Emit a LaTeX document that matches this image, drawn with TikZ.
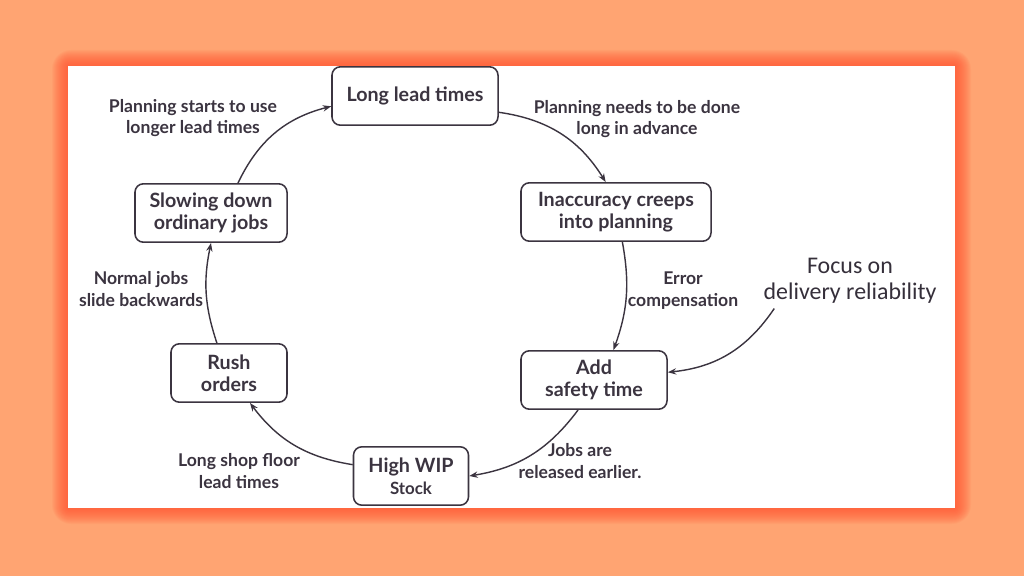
\documentclass[tikz,border=0pt]{standalone}
\usepackage{fontspec}
\setmainfont{Lato}
\newfontfamily\focusfont{Carlito}
\usetikzlibrary{arrows.meta}

\definecolor{bgorange}{HTML}{FFA472}
\definecolor{glowred}{HTML}{FF5230}
\definecolor{ink}{HTML}{3B3440}

\begin{document}
\begin{tikzpicture}[
    x=0.025cm, y=-0.025cm,
    >={Stealth[length=6pt, width=4.5pt]},
    stage/.style={draw=ink, rounded corners=6pt, line width=1.1pt, fill=white, align=center, text=ink, inner sep=0pt, minimum height=1.46cm, font=\fontsize{14}{15.6}\selectfont\bfseries},
    note/.style={align=center, text=ink, font=\fontsize{12.5}{15.5}\selectfont\bfseries},
    link/.style={->, draw=ink, line width=1pt},
]
  % background and panel
  \fill[bgorange] (0,0) rectangle (1024,576);
  \foreach \d in {1,...,16}
    \fill[glowred, opacity=0.07, rounded corners=\d*0.3mm] (68-\d,66-\d) rectangle (955+\d,508+\d);
  \fill[white] (68,66) rectangle (955,508);

  % Stages of the loop
  \node[stage, minimum width=4.15cm] (lead) at (415,96) {Long lead times};
  \node[stage, minimum width=4.75cm] (inacc) at (616,212) {Inaccuracy creeps\\into planning};
  \node[stage, minimum width=3.65cm] (safety) at (594,380) {Add\\safety time};
  \node[stage, minimum width=2.875cm] (wip) at (411,476) {High WIP\\{\fontsize{12}{15}\selectfont Stock}};
  \node[stage, minimum width=2.9cm] (rush) at (229,373) {Rush\\orders};
  \node[stage, minimum width=3.8cm] (slow) at (211,213) {Slowing down\\ordinary jobs};

  % outside driver
  \node[align=center, text=ink!90!black, font=\fontsize{17}{18.5}\selectfont\focusfont] (focus) at (850,281) {Focus on\\delivery reliability};

  % Arrows
  \draw[link] (slow.48) to[bend left=25] (lead.187);
  \draw[link] (lead.-11) to[bend left=25] (inacc.109);
  \draw[link] (inacc.-78) to[bend left=15] (safety.57);
  \draw[link] (safety.-118) to[bend left=22] (wip.east);
  \draw[link] (wip.169) to[bend left=22] (rush.-55);
  \draw[link] (rush.112) to[bend left=15] (slow.south);
  \draw[link] (focus.200) to[bend left=25] (safety.6);

  % Labels
  \node[note] (startsuse) at (193,118) {Planning starts to use\\longer lead times};
  \node[note] (advance) at (637,119) {Planning needs to be done\\long in advance};
  \node[note] (errcomp) at (683,291) {Error\\compensation};
  \node[note] (released) at (580,461) {Jobs are\\released earlier.};
  \node[note] (shopfloor) at (239,471) {Long shop floor\\lead times};
  \node[note] (normal) at (141,289) {Normal jobs\\slide backwards};
\end{tikzpicture}
\end{document}
